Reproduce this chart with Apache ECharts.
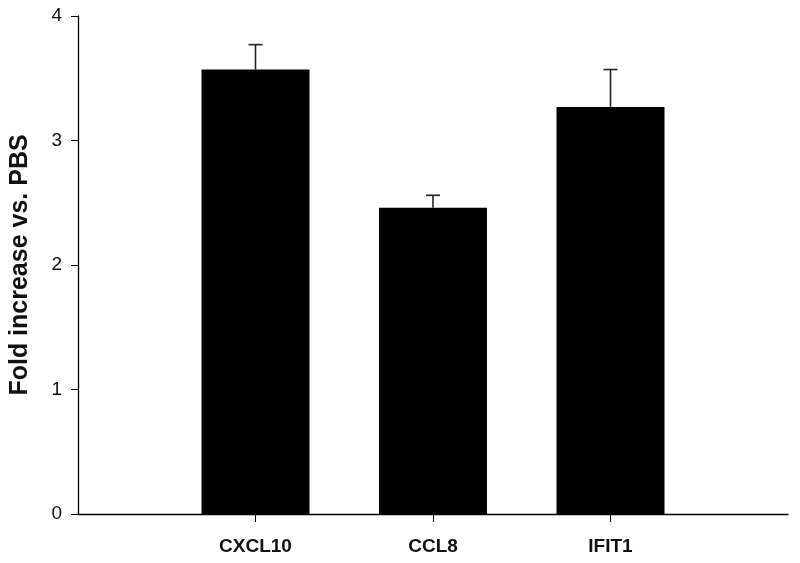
<!DOCTYPE html>
<html>
<head>
<meta charset="utf-8">
<script src="https://cdn.jsdelivr.net/npm/echarts@6/dist/echarts.min.js"></script>
<style>html,body{margin:0;padding:0;background:#fff}#c{width:800px;height:563px}</style>
</head>
<body>
<div id="c"></div>
<script>
const categories = ['', 'CXCL10', 'CCL8', 'IFIT1', ''];
const values = [null, 3.57, 2.46, 3.27, null];
const errUpper = [null, 3.77, 2.56, 3.57, null];
const yTicks = [0, 1, 2, 3, 4];

const chart = echarts.init(document.getElementById('c'));
const font = '"Liberation Sans", Arial, sans-serif';
const errData = [];
categories.forEach((c, i) => { if (values[i] != null) errData.push([i, values[i], errUpper[i]]); });

chart.setOption({
  animation: false,
  grid: { left: 78, right: 12, top: 16, bottom: 49, containLabel: false },
  xAxis: {
    type: 'category',
    data: categories,
    boundaryGap: false,
    axisLine: { lineStyle: { color: '#000', width: 1.3 } },
    axisTick: { show: true, length: 8, lineStyle: { color: '#000', width: 1 },
      interval: (i, v) => v !== '' },
    axisLabel: { color: '#111', fontFamily: font, fontWeight: 'bold', fontSize: 19, margin: 23, interval: 0 },
    splitLine: { show: false }
  },
  yAxis: {
    type: 'value',
    min: 0, max: 4, interval: 1,
    name: 'Fold increase vs. PBS',
    nameLocation: 'middle',
    nameGap: 45,
    nameTextStyle: { color: '#111', fontFamily: font, fontWeight: 'bold', fontSize: 25 },
    axisLine: { show: true, lineStyle: { color: '#000', width: 1.3 } },
    axisTick: { show: true, length: 7, lineStyle: { color: '#000', width: 1 } },
    axisLabel: { color: '#111', fontFamily: font, fontSize: 19, margin: 16,
      formatter: v => yTicks.includes(v) ? String(v) : '' },
    splitLine: { show: false }
  },
  series: [
    {
      type: 'bar',
      data: values.map(v => v == null ? '-' : v),
      barWidth: 108,
      itemStyle: { color: '#000' },
      z: 2
    },
    {
      type: 'custom',
      data: errData,
      z: 3,
      renderItem: function (params, api) {
        const x = api.coord([api.value(0), api.value(1)])[0];
        const y0 = api.coord([api.value(0), api.value(1)])[1];
        const y1 = api.coord([api.value(0), api.value(2)])[1];
        const hw = 7;
        const style = { stroke: '#222', lineWidth: 1.6 };
        return {
          type: 'group',
          children: [
            { type: 'line', shape: { x1: x, y1: y0, x2: x, y2: y1 }, style },
            { type: 'line', shape: { x1: x - hw, y1: y1, x2: x + hw, y2: y1 }, style }
          ]
        };
      }
    }
  ]
});
</script>
</body>
</html>
